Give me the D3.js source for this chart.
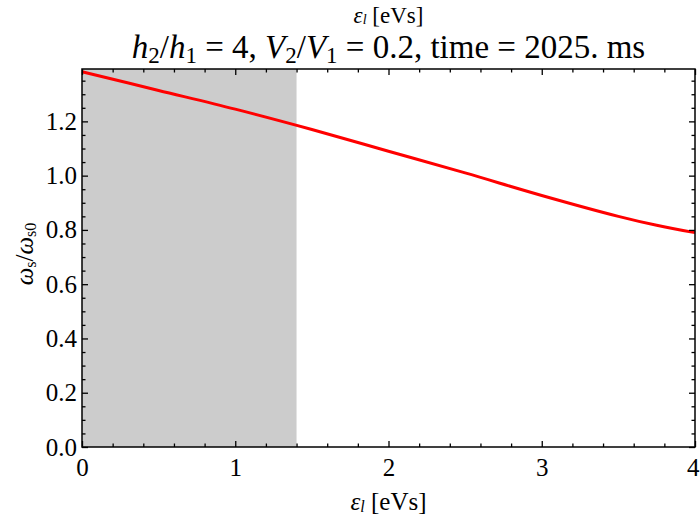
<!DOCTYPE html>
<html><head><meta charset="utf-8">
<script src="https://cdn.jsdelivr.net/npm/d3@7"></script>
<style>
html,body{margin:0;padding:0;background:#fff;}
text{font-family:"Liberation Serif","Times New Roman",Times,serif;}
</style></head>
<body>
<svg id="chart" width="700" height="521"></svg>
<script>
// Data
const epsilon = [0, 0.5, 1, 1.5, 2, 2.5, 3, 3.5, 3.75, 4];
const omegaRatio = [1.383, 1.314, 1.245, 1.170, 1.090, 1.010, 0.927, 0.850, 0.817, 0.790];
const shadedRange = [0, 1.4];
const xTicks = [0, 1, 2, 3, 4];
const yTicks = [0.0, 0.2, 0.4, 0.6, 0.8, 1.0, 1.2];
const xDomain = [0, 4];
const yDomain = [0, 1.393];

const FONT = "Liberation Serif, Times New Roman, serif";
const svg = d3.select("#chart");
const m = {left: 82, right: 5, top: 69, bottom: 74};
const W = 700, H = 521;
const x = d3.scaleLinear().domain(xDomain).range([m.left, W - m.right]);
const y = d3.scaleLinear().domain(yDomain).range([H - m.bottom, m.top]);

svg.append("rect")
  .attr("x", x(shadedRange[0])).attr("y", y(yDomain[1]))
  .attr("width", x(shadedRange[1]) - x(shadedRange[0]))
  .attr("height", y(yDomain[0]) - y(yDomain[1]))
  .attr("fill", "#cccccc");

const pts = epsilon.map((e, i) => [e, omegaRatio[i]]);
svg.append("path")
  .datum(pts)
  .attr("fill", "none").attr("stroke", "#ff0000").attr("stroke-width", 3)
  .attr("d", d3.line().x(d => x(d[0])).y(d => y(d[1])).curve(d3.curveCatmullRom.alpha(0.5)));

const xMinor = d3.range(0, 4.0001, 0.2).filter(v => Math.abs(v - Math.round(v)) > 1e-6);
const yMinor = d3.range(0, 1.39, 0.05).filter(v => Math.abs(v*5 - Math.round(v*5)) > 1e-6);

function styleAxis(g){ g.select(".domain").remove(); g.attr("font-family", FONT); g.selectAll("line").attr("stroke","#000").attr("stroke-width",1.3); }

const fs = 25;
const gb = svg.append("g").attr("transform", `translate(0,${y(0)})`)
  .call(d3.axisBottom(x).tickValues(xTicks).tickFormat(d3.format("d")).tickSizeInner(-6).tickSizeOuter(0).tickPadding(11));
styleAxis(gb);
gb.selectAll("text").attr("font-size", fs).attr("fill","#000").attr("font-family", FONT);
gb.selectAll(".tick").filter(d => d === xDomain[1]).select("text").attr("text-anchor", "end").attr("x", W - 1 - x(xDomain[1]));
svg.append("g").attr("transform", `translate(0,${y(0)})`)
  .call(d3.axisBottom(x).tickValues(xMinor).tickFormat("").tickSizeInner(-3.5).tickSizeOuter(0)).call(styleAxis);
svg.append("g").attr("transform", `translate(0,${y(yDomain[1])})`)
  .call(d3.axisTop(x).tickValues(xTicks).tickFormat("").tickSizeInner(-6).tickSizeOuter(0)).call(styleAxis);
svg.append("g").attr("transform", `translate(0,${y(yDomain[1])})`)
  .call(d3.axisTop(x).tickValues(xMinor).tickFormat("").tickSizeInner(-3.5).tickSizeOuter(0)).call(styleAxis);
const gl = svg.append("g").attr("transform", `translate(${x(0)},0)`)
  .call(d3.axisLeft(y).tickValues(yTicks).tickFormat(d3.format(".1f")).tickSizeInner(-6).tickSizeOuter(0).tickPadding(5));
styleAxis(gl);
gl.selectAll("text").attr("font-size", fs).attr("fill","#000").attr("font-family", FONT);
svg.append("g").attr("transform", `translate(${x(0)},0)`)
  .call(d3.axisLeft(y).tickValues(yMinor).tickFormat("").tickSizeInner(-3.5).tickSizeOuter(0)).call(styleAxis);
svg.append("g").attr("transform", `translate(${x(4)},0)`)
  .call(d3.axisRight(y).tickValues(yTicks).tickFormat("").tickSizeInner(-6).tickSizeOuter(0)).call(styleAxis);
svg.append("g").attr("transform", `translate(${x(4)},0)`)
  .call(d3.axisRight(y).tickValues(yMinor).tickFormat("").tickSizeInner(-3.5).tickSizeOuter(0)).call(styleAxis);

svg.append("rect")
  .attr("x", x(0)).attr("y", y(yDomain[1]))
  .attr("width", x(4) - x(0)).attr("height", y(0) - y(yDomain[1]))
  .attr("fill", "none").attr("stroke", "#000").attr("stroke-width", 1.5);

const cx = (x(0) + x(4)) / 2;

function rich(t, parts, shift){
  t.attr("font-family", FONT);
  parts.forEach(p => {
    const ts = t.append("tspan").text(p.t);
    if (p.i) ts.attr("font-style", "italic");
    if (p.sub) ts.attr("font-size", p.sub).attr("dy", shift);
    else if (p.back) ts.attr("dy", -shift);
  });
}

const tTop = svg.append("text").attr("x", cx).attr("y", 23).attr("text-anchor", "middle").attr("font-size", 23).attr("fill","#000");
rich(tTop, [{t:"ε", i:true},{t:"l", i:true, sub:"14px"},{t:" [eVs]", back:true}], 1);

const title = svg.append("text").attr("x", cx).attr("y", 58).attr("text-anchor", "middle").attr("font-size", 33).attr("fill","#000");
rich(title, [
  {t:"h", i:true},{t:"2", sub:"23px"},{t:"/", back:true},{t:"h", i:true},{t:"1", sub:"23px"},{t:" = 4, ", back:true},
  {t:"V", i:true},{t:"2", sub:"23px"},{t:"/", back:true},{t:"V", i:true},{t:"1", sub:"23px"},{t:" = 0.2, time = 2025. ms", back:true}
], 5);

const xl = svg.append("text").attr("x", cx).attr("y", 510).attr("text-anchor", "middle").attr("font-size", 25).attr("fill","#000");
rich(xl, [{t:"ε", i:true},{t:"l", i:true, sub:"16px"},{t:" [eVs]", back:true}], 2);

const yl = svg.append("text").attr("transform", `translate(33,${(y(0)+y(yDomain[1]))/2 - 4}) rotate(-90)`)
  .attr("text-anchor", "middle").attr("font-size", 25).attr("fill","#000");
rich(yl, [{t:"ω", i:true},{t:"s", sub:"16px"},{t:"/", back:true},{t:"ω", i:true},{t:"s0", sub:"16px"}], 3);
</script>
</body></html>
